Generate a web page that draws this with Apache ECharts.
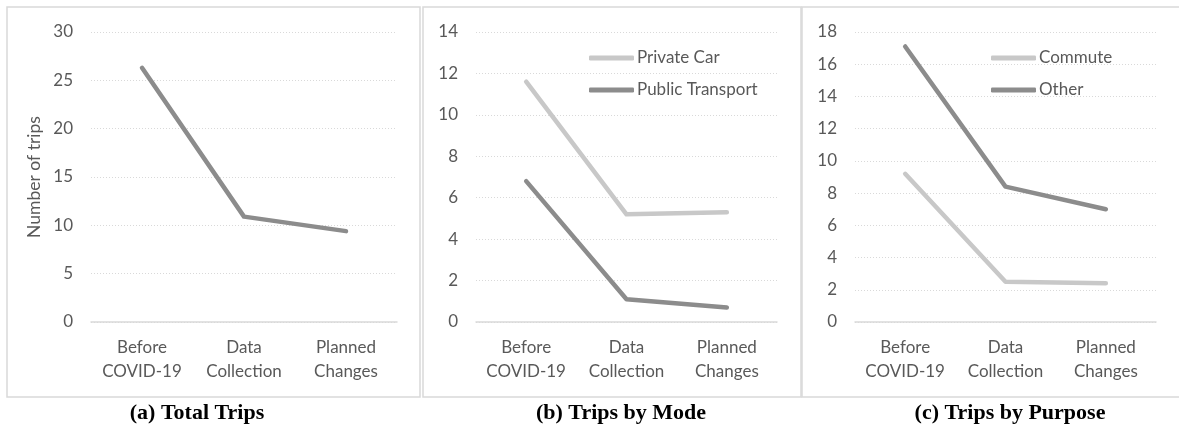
<!DOCTYPE html>
<html>
<head>
<meta charset="utf-8">
<script src="https://cdn.jsdelivr.net/npm/echarts@6/dist/echarts.min.js"></script>
<style>
  html, body { margin: 0; padding: 0; background: #fff; }
  #chart { width: 1179px; height: 428px; }
</style>
</head>
<body>
<div id="chart"></div>
<script>
// Trip counts across three periods
const categories = ['Before\nCOVID-19', 'Data\nCollection', 'Planned\nChanges'];
const totalTrips = [26.3, 10.9, 9.4];
const privateCar = [11.6, 5.2, 5.3];
const publicTransport = [6.8, 1.1, 0.7];
const commute = [9.2, 2.5, 2.4];
const other = [17.1, 8.4, 7.0];
const panelTitles = ['(a) Total Trips', '(b) Trips by Mode', '(c) Trips by Purpose'];
const yMax = [30, 14, 18];
const yStep = [5, 2, 2];

const LIGHT = '#c8c8c8';
const DARK = '#8c8c8c';
const TEXT = '#595959';
const GRID = '#d9d9d9';
const SANS = 'Lato, "Open Sans", sans-serif';

const grids = [
  { left: 91, width: 306, top: 32, bottom: 106 },
  { left: 476, width: 301, top: 32, bottom: 106 },
  { left: 855, width: 301, top: 32, bottom: 106 }
];

const xAxes = grids.map((g, i) => ({
  type: 'category',
  gridIndex: i,
  data: categories,
  axisLine: { lineStyle: { color: GRID, width: 1.5 } },
  axisTick: { show: false },
  axisLabel: { color: TEXT, fontFamily: SANS, fontSize: 17, lineHeight: 24, margin: 14, interval: 0 }
}));

const yAxes = grids.map((g, i) => ({
  type: 'value',
  gridIndex: i,
  min: 0,
  max: yMax[i],
  interval: yStep[i],
  axisLine: { show: false },
  axisTick: { show: false },
  axisLabel: { color: TEXT, fontFamily: SANS, fontSize: 17, margin: 18 },
  splitLine: { lineStyle: { color: GRID, type: [1, 2], width: 1 } },
  name: i === 0 ? 'Number of trips' : '',
  nameLocation: 'middle',
  nameGap: 48,
  nameTextStyle: { color: TEXT, fontFamily: SANS, fontSize: 17.5 }
}));

function line(name, data, idx, color) {
  return {
    name: name,
    type: 'line',
    xAxisIndex: idx,
    yAxisIndex: idx,
    data: data,
    symbol: 'none',
    color: color,
    lineStyle: { color: color, width: 4.5, cap: 'round', join: 'round' },
    emphasis: { disabled: true },
    z: color === DARK ? 3 : 2
  };
}

const legendBase = {
  orient: 'vertical',
  top: 48,
  padding: 0,
  itemWidth: 45,
  itemHeight: 5,
  itemGap: 12,
  icon: 'roundRect',
  textStyle: { color: TEXT, fontFamily: SANS, fontSize: 17, lineHeight: 20, padding: [0, 0, 0, -2] }
};

// panel frames
const frames = [
  { x: 7, y: 7, w: 413, h: 390 },
  { x: 423, y: 7, w: 378, h: 390 },
  { x: 802, y: 7, w: 400, h: 390 }
].map(f => ({
  type: 'rect',
  shape: { x: f.x, y: f.y, width: f.w, height: f.h },
  style: { fill: null, stroke: GRID, lineWidth: 1.5 },
  silent: true,
  z: -1
}));

const option = {
  animation: false,
  backgroundColor: '#fff',
  grid: grids,
  xAxis: xAxes,
  yAxis: yAxes,
  title: panelTitles.map((t, i) => ({
    text: t,
    left: [197, 621, 1010][i],
    top: 402,
    padding: 0,
    textAlign: 'center',
    textStyle: { fontFamily: '"Liberation Serif", "Times New Roman", serif', fontWeight: 'bold', fontSize: 22, color: '#000' }
  })),
  legend: [
    Object.assign({}, legendBase, { left: 589, data: ['Private Car', 'Public Transport'] }),
    Object.assign({}, legendBase, { left: 991, data: ['Commute', 'Other'] })
  ],
  graphic: frames,
  series: [
    line('Total', totalTrips, 0, DARK),
    line('Private Car', privateCar, 1, LIGHT),
    line('Public Transport', publicTransport, 1, DARK),
    line('Commute', commute, 2, LIGHT),
    line('Other', other, 2, DARK)
  ]
};

const chart = echarts.init(document.getElementById('chart'), null, { renderer: 'canvas' });
chart.setOption(option);
</script>
</body>
</html>
